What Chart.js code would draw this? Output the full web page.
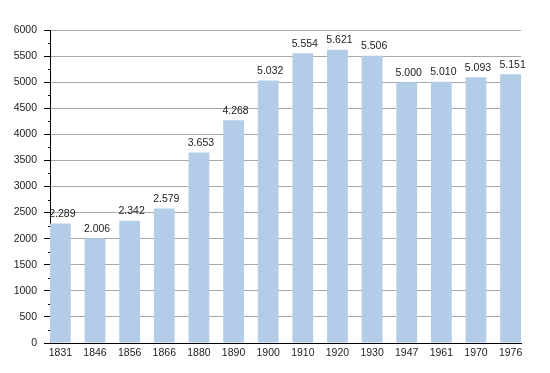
<!DOCTYPE html>
<html>
<head>
<meta charset="utf-8">
<script src="https://cdn.jsdelivr.net/npm/chart.js@4/dist/chart.umd.min.js"></script>
<style>
    html, body { margin: 0; padding: 0; background: #fff; }
    #wrap { width: 550px; height: 373px; }
</style>
</head>
<body>
<div id="wrap"><canvas id="chart"></canvas></div>
<script>
const years = ['1831', '1846', '1856', '1866', '1880', '1890', '1900', '1910', '1920', '1930', '1947', '1961', '1970', '1976'];
const population = [2289, 2006, 2342, 2579, 3653, 4268, 5032, 5554, 5621, 5506, 5000, 5010, 5093, 5151];
const yMax = 6000;
const yStep = 500;

const FONT = { family: '"Liberation Sans", Arial, sans-serif', size: 10.5 };

// 2289 -> "2.289"
function fmt(v) {
    return String(v).replace(/\B(?=(\d{3})+(?!\d))/g, '.');
}

// value labels above bars
const barLabels = {
    id: 'barLabels',
    afterDatasetsDraw(chart) {
        const ctx = chart.ctx;
        const meta = chart.getDatasetMeta(0);
        ctx.save();
        ctx.font = FONT.size + 'px ' + FONT.family;
        ctx.fillStyle = '#222';
        ctx.textAlign = 'center';
        ctx.textBaseline = 'bottom';
        meta.data.forEach((bar, i) => {
            ctx.fillText(fmt(population[i]), bar.x + 2, bar.y - 4);
        });
        ctx.restore();
    }
};

// short minor ticks on the y axis (every 250)
const minorTicks = {
    id: 'minorTicks',
    afterDraw(chart) {
        const y = chart.scales.y;
        const ctx = chart.ctx;
        ctx.save();
        ctx.strokeStyle = '#000';
        ctx.lineWidth = 1;
        for (let v = yStep / 2; v < yMax; v += yStep) {
            const py = Math.round(y.getPixelForValue(v)) + 0.5;
            ctx.beginPath();
            ctx.moveTo(y.right - 2, py);
            ctx.lineTo(y.right, py);
            ctx.stroke();
        }
        ctx.restore();
    }
};

new Chart(document.getElementById('chart'), {
    type: 'bar',
    data: {
        datasets: [{
            data: population.map((v, i) => ({ x: i, y: v })),
            backgroundColor: '#b3cde8',
            borderWidth: 0,
            categoryPercentage: 1,
            barPercentage: 0.6
        }]
    },
    options: {
        responsive: true,
        maintainAspectRatio: false,
        animation: false,
        devicePixelRatio: 1,
        layout: { padding: { top: 30, right: 29, left: 0, bottom: 0 } },
        plugins: { legend: { display: false }, tooltip: { enabled: false } },
        scales: {
            x: {
                type: 'linear',
                min: -0.3,
                max: years.length - 1 + 0.3,
                offset: false,
                grid: { color: 'rgba(0,0,0,0)', drawTicks: false },
                border: { color: '#000', width: 1 },
                ticks: {
                    stepSize: 1,
                    includeBounds: false,
                    autoSkip: false,
                    maxRotation: 0,
                    padding: 4,
                    color: '#222',
                    font: FONT,
                    callback: v => years[v] ?? ''
                },
                afterFit: s => { s.height = 30; }
            },
            y: {
                min: 0,
                max: yMax,
                grid: {
                    color: c => (c.tick.value % yStep === 0 ? '#a8a8a8' : '#e6e6e6'),
                    tickColor: c => (c.tick.value % yStep === 0 ? '#000' : 'rgba(0,0,0,0)'),
                    tickLength: 6
                },
                border: { color: '#000', width: 1 },
                ticks: {
                    stepSize: yStep / 2,
                    padding: 7,
                    color: '#222',
                    font: FONT,
                    callback: v => (v % yStep === 0 ? String(v) : '')
                },
                afterFit: s => { s.width = 50; }
            }
        }
    },
    plugins: [barLabels, minorTicks]
});
</script>
</body>
</html>
